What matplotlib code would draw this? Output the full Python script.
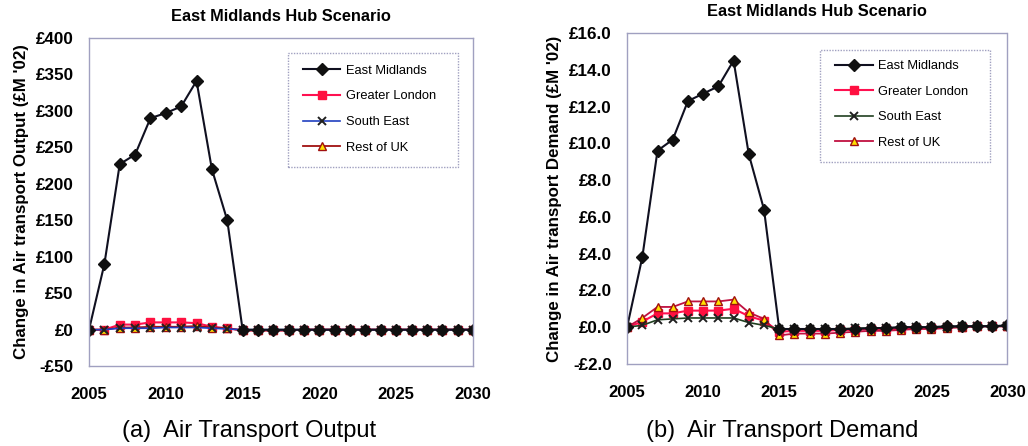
import matplotlib.pyplot as plt
from matplotlib.patches import Rectangle
from matplotlib.ticker import FuncFormatter, MultipleLocator

plt.rcParams['font.family'] = ['Liberation Sans', 'DejaVu Sans']

years = list(range(2005, 2031))

# Air transport output, change in £M '02
out_em = [0, 90, 227, 240, 290, 297, 306, 341, 220, 150, 0,
          0, 0, 0, 0, 0, 0, 0, 0, 0, 0, 0, 0, 0, 0, 0]
out_gl = [0, 0, 7, 7, 10, 10, 10, 9, 4, 2, -1,
          -1, -1, -1, 0, 0, 0, 0, 0, 0, 0, 0, 0, 0, 0, 0]
out_se = [0, 0, 2, 2, 2, 3, 3, 3, 2, 1, 0,
          0, 0, 0, 0, 0, 0, 0, 0, 0, 0, 0, 0, 0, 0, 0]
out_rest = [0, 0, 3, 3, 4, 4, 4, 5, 3, 2, -1,
            -1, -1, -1, 0, 0, 0, 0, 0, 0, 0, 0, 0, 0, 0, 0]

# Air transport demand, change in £M '02
dem_em = [0, 3.8, 9.6, 10.2, 12.3, 12.7, 13.1, 14.5, 9.4, 6.4, -0.1,
          -0.1, -0.1, -0.1, -0.1, -0.1, -0.05, -0.05, 0, 0, 0, 0.05, 0.05, 0.05, 0.05, 0.1]
dem_gl = [0, 0.3, 0.75, 0.75, 0.9, 0.9, 0.9, 1.0, 0.6, 0.35, -0.25,
          -0.2, -0.2, -0.2, -0.15, -0.15, -0.1, -0.1, -0.1, -0.05, -0.05, 0, 0, 0.05, 0.05, 0.05]
dem_se = [0, 0.1, 0.4, 0.45, 0.5, 0.5, 0.5, 0.5, 0.25, 0.1, -0.1,
          -0.1, -0.1, -0.1, -0.1, -0.05, -0.05, -0.05, 0, 0, 0, 0, 0.05, 0.05, 0.05, 0.05]
dem_rest = [0, 0.5, 1.1, 1.1, 1.4, 1.4, 1.4, 1.5, 0.8, 0.45, -0.45,
            -0.35, -0.35, -0.35, -0.3, -0.25, -0.2, -0.2, -0.15, -0.1, -0.1, -0.05, 0, 0.05, 0.05, 0.05]

fig = plt.figure(figsize=(10.28, 4.46), dpi=100)
ax1 = fig.add_axes([0.0866, 0.179, 0.3735, 0.736])
ax2 = fig.add_axes([0.610, 0.184, 0.370, 0.742])

dotted = (0, (1, 1))
frame_col = '#a0a0c0'


def draw(ax, em, gl, se, rest, se_col, rest_col, box, leg_anchor):
    ax.plot(years, gl, color='#ff1050', lw=1.5, marker='s', ms=6,
            mfc='#ff1040', mec='#ff1040', label='Greater London')
    ax.plot(years, rest, color=rest_col, lw=1.3, marker='^', ms=6,
            mfc='#ffe000', mec='#a01010', mew=1.0, label='Rest of UK')
    ax.plot(years, se, color=se_col, lw=1.2, marker='x', ms=6,
            mec='#202020', mew=1.4, label='South East')
    ax.plot(years, em, color='#101020', lw=1.5, marker='D', ms=6,
            mfc='#101010', mec='#101010', label='East Midlands')
    ax.set_xlim(2005, 2030)
    ax.xaxis.set_major_locator(MultipleLocator(5))
    ax.tick_params(axis='y', length=0, pad=11, labelsize=12.3)
    ax.tick_params(axis='x', length=0, pad=15, labelsize=12)
    for sp in ax.spines.values():
        sp.set_linestyle(dotted)
        sp.set_color(frame_col)
        sp.set_linewidth(1.0)
    # legend box drawn separately so its padding can be set freely
    x0, y0, x1, y1 = box
    ax.add_patch(Rectangle((x0, y0), x1 - x0, y1 - y0, transform=ax.transAxes,
                           fill=True, fc='white', ec=frame_col, lw=1.0,
                           ls=dotted, zorder=4))
    h, l = ax.get_legend_handles_labels()
    order = [3, 0, 2, 1]
    leg = ax.legend([h[i] for i in order], [l[i] for i in order],
                    loc='upper left', bbox_to_anchor=leg_anchor,
                    fontsize=9.3, labelspacing=1.05, handlelength=2.9,
                    handletextpad=0.4, borderpad=0, borderaxespad=0,
                    frameon=False)
    leg.set_zorder(5)


draw(ax1, out_em, out_gl, out_se, out_rest, '#2040c0', '#a01010',
     (0.518, 0.607, 0.961, 0.954), (0.557, 0.918))
ax1.set_ylim(-50, 400)
ax1.yaxis.set_major_locator(MultipleLocator(50))
ax1.yaxis.set_major_formatter(FuncFormatter(
    lambda v, p: ('-£%d' % -v) if v < 0 else '£%d' % v))
ax1.set_ylabel("Change in Air transport Output (£M '02)", fontsize=12.2,
               fontweight='bold', labelpad=5)
ax1.set_title('East Midlands Hub Scenario', fontsize=11.8,
              fontweight='bold', pad=12)
for lab in ax1.get_xticklabels() + ax1.get_yticklabels():
    lab.set_fontweight('bold')

draw(ax2, dem_em, dem_gl, dem_se, dem_rest, '#204020', '#c01040',
     (0.508, 0.610, 0.955, 0.949), (0.547, 0.918))
ax2.set_ylim(-2, 16)
ax2.yaxis.set_major_locator(MultipleLocator(2))
ax2.yaxis.set_major_formatter(FuncFormatter(
    lambda v, p: ('-£%.1f' % -v) if v < 0 else '£%.1f' % v))
ax2.set_ylabel("Change in Air transport Demand (£M '02)", fontsize=12.2,
               fontweight='bold', labelpad=5)
ax2.set_title('East Midlands Hub Scenario', fontsize=11.8,
              fontweight='bold', pad=12)
for lab in ax2.get_xticklabels() + ax2.get_yticklabels():
    lab.set_fontweight('bold')

fig.text(0.242, 0.02, '(a)  Air Transport Output', fontsize=17, ha='center')
fig.text(0.761, 0.02, '(b)  Air Transport Demand', fontsize=17, ha='center')

fig.savefig('out.png', dpi=100)
